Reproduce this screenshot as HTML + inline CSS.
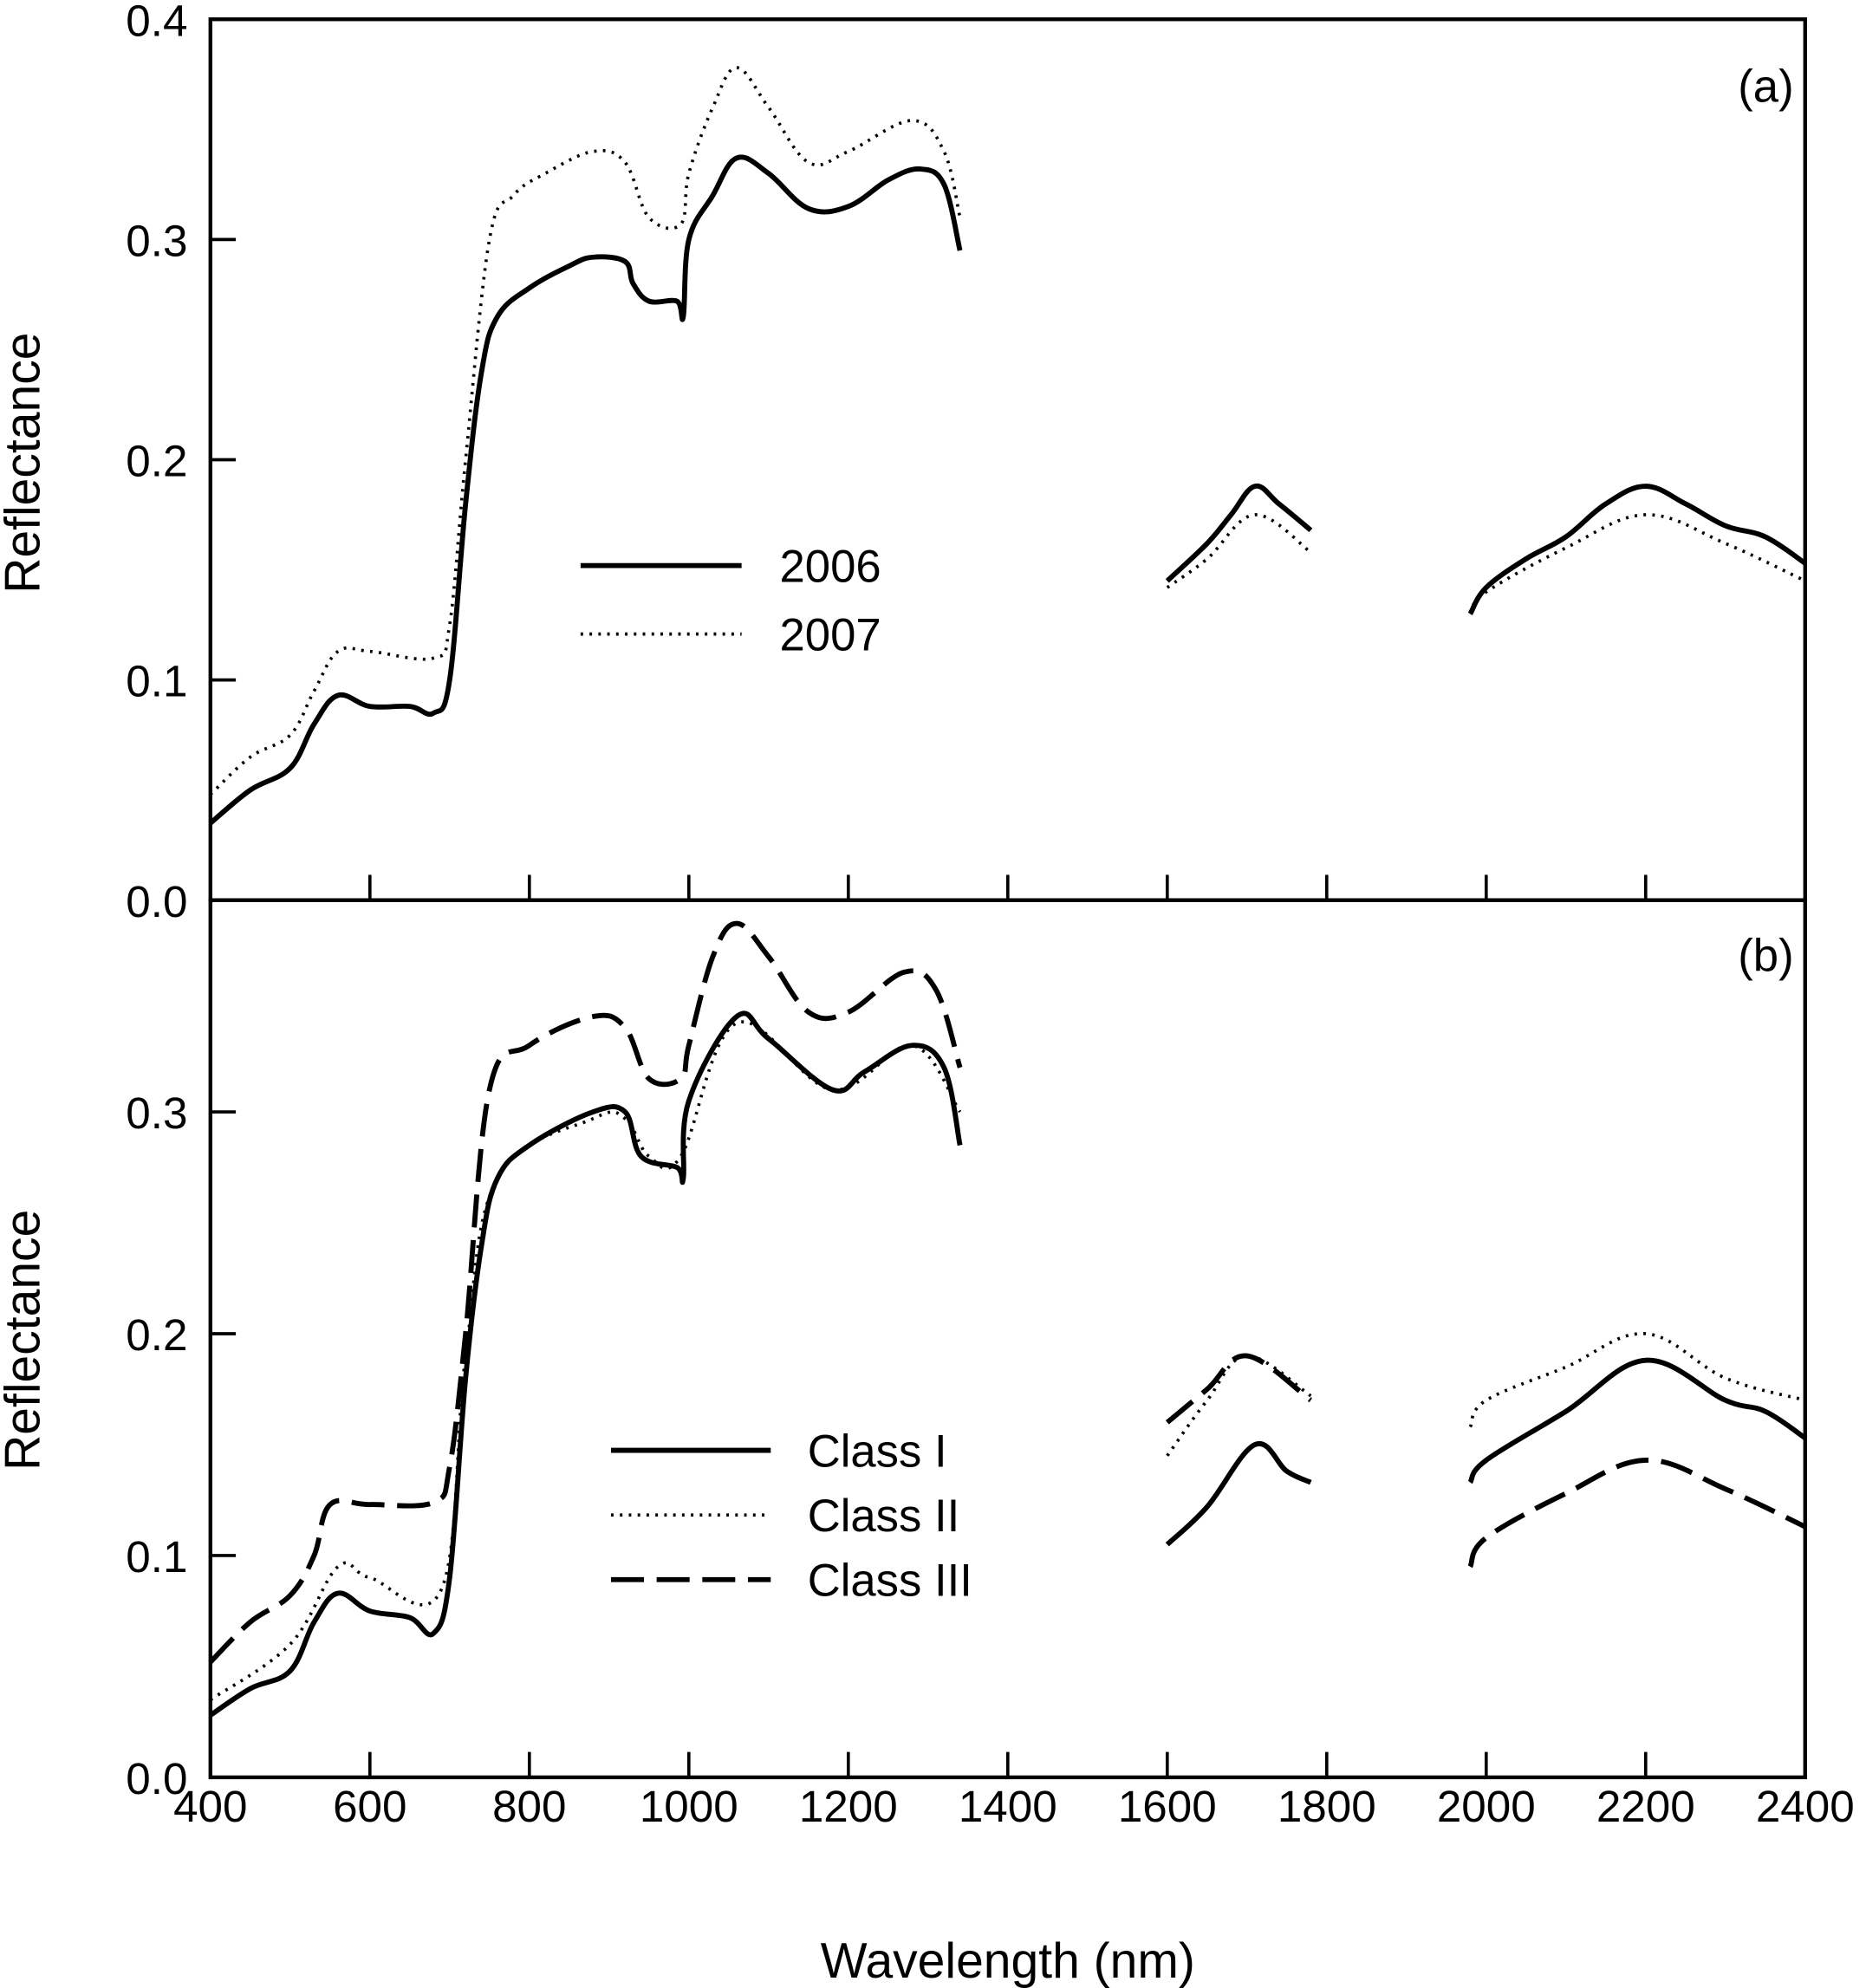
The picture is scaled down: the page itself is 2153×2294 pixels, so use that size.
<!DOCTYPE html>
<html><head><meta charset="utf-8"><style>
html,body{margin:0;padding:0;background:#fff;}
svg{display:block;}
text{font-family:"Liberation Sans",sans-serif;fill:#000;}
</style></head><body>
<svg id="s" width="2153" height="2294" viewBox="0 0 1472 1568" xmlns="http://www.w3.org/2000/svg">
<g id="g"></g>
</svg>
<script>
const g=document.getElementById('g');
const NS='http://www.w3.org/2000/svg';
function el(t,a,txt){const e=document.createElementNS(NS,t);for(const k in a)e.setAttribute(k,a[k]);if(txt!==undefined)e.textContent=txt;g.appendChild(e);return e;}
const X=w=>166+(w-400)*0.629;
const YT=v=>710-v*1737.5;
const YB=v=>1402-v*1750;
el('rect',{x:166,y:15,width:1258,height:695,fill:'none',stroke:'#000','stroke-width':3});
el('rect',{x:166,y:710,width:1258,height:692,fill:'none',stroke:'#000','stroke-width':3});
for(let w=600;w<2400;w+=200){
 el('line',{x1:X(w),x2:X(w),y1:710,y2:690,stroke:'#000','stroke-width':2.5});
 el('line',{x1:X(w),x2:X(w),y1:1402,y2:1382,stroke:'#000','stroke-width':2.5});
}
for(let w=400;w<=2400;w+=200){el('text',{x:X(w),y:1437,'font-size':35,'text-anchor':'middle'},String(w));}
for(let i=0;i<=4;i++){const v=i/10;
 el('text',{x:148,y:YT(v)+13,'font-size':35,'text-anchor':'end'},v.toFixed(1));
 if(i>0&&i<4)el('line',{x1:166,x2:186,y1:YT(v),y2:YT(v),stroke:'#000','stroke-width':2.5});
}
for(let i=0;i<=3;i++){const v=i/10;
 el('text',{x:148,y:YB(v)+13,'font-size':35,'text-anchor':'end'},v.toFixed(1));
 if(i>0)el('line',{x1:166,x2:186,y1:YB(v),y2:YB(v),stroke:'#000','stroke-width':2.5});
}
el('text',{x:1415,y:80,'font-size':36,'text-anchor':'end'},'(a)');
el('text',{x:1415,y:766,'font-size':36,'text-anchor':'end'},'(b)');
el('text',{x:795,y:1560,'font-size':39,'text-anchor':'middle'},'Wavelength (nm)');
el('text',{x:0,y:0,'font-size':39,'text-anchor':'middle',transform:'translate(31,365) rotate(-90)'},'Reflectance');
el('text',{x:0,y:0,'font-size':39,'text-anchor':'middle',transform:'translate(31,1057) rotate(-90)'},'Reflectance');
const styles={solid:{'stroke-width':4},dot:{'stroke-width':2.5,'stroke-dasharray':'2 5'},dash:{'stroke-width':4,'stroke-dasharray':'26 10'}};
function series(segs,Y,st){for(const s of segs){const p=[];for(let i=0;i<s.length;i+=2)p.push([X(s[i]),Y(s[i+1])]);
 let d='M'+p[0][0].toFixed(1)+','+p[0][1].toFixed(1);
 for(let i=0;i<p.length-1;i++){const p0=p[Math.max(0,i-1)],p1=p[i],p2=p[i+1],p3=p[Math.min(p.length-1,i+2)];
  const t=0.18;
  const c1=[p1[0]+(p2[0]-p0[0])*t,p1[1]+(p2[1]-p0[1])*t],c2=[p2[0]-(p3[0]-p1[0])*t,p2[1]-(p3[1]-p1[1])*t];
  d+='C'+c1.map(v=>v.toFixed(1)).join(',')+' '+c2.map(v=>v.toFixed(1)).join(',')+' '+p2.map(v=>v.toFixed(1)).join(',');}
 el('path',Object.assign({d:d,fill:'none',stroke:'#000','stroke-linejoin':'round'},styles[st]));}}
function leg(x1,x2,y,st,tx,label){el('line',Object.assign({x1:x1,x2:x2,y1:y,y2:y,stroke:'#000'},styles[st]));el('text',{x:tx,y:y+13,'font-size':36},label);}
series([[400,.035,450,.05,500,.06,530,.08,560,.093,600,.088,650,.088,680,.085,700,.1,720,.18,740,.24,760,.265,800,.278,850,.288,880,.292,920,.29,930,.28,950,.272,985,.272,993,.265,1000,.3,1030,.32,1060,.337,1100,.33,1150,.314,1200,.315,1250,.327,1290,.332,1320,.325,1340,.295],
 [1600,.145,1650,.162,1680,.175,1710,.188,1740,.18,1780,.168],
 [1980,.13,2000,.142,2050,.155,2100,.165,2150,.18,2200,.188,2250,.18,2300,.17,2350,.165,2400,.153]],YT,'solid');
series([[400,.048,450,.065,500,.075,530,.095,560,.113,600,.113,680,.11,700,.125,720,.2,750,.3,780,.32,820,.33,880,.34,920,.335,950,.31,990,.307,1000,.33,1030,.36,1060,.378,1100,.36,1150,.335,1200,.34,1280,.354,1320,.34,1340,.31],
 [1600,.142,1650,.155,1710,.175,1780,.158],
 [1980,.13,2000,.14,2100,.16,2200,.175,2300,.162,2400,.145]],YT,'dot');
leg(458,585,446,'solid',615,'2006');leg(458,585,500,'dot',615,'2007');
series([[400,.028,450,.04,500,.048,530,.07,560,.083,600,.075,650,.072,680,.065,700,.09,720,.18,740,.24,760,.27,800,.285,880,.3,920,.3,940,.28,985,.275,993,.27,1000,.305,1060,.343,1100,.333,1180,.31,1220,.318,1280,.33,1320,.32,1340,.285],
 [1600,.105,1650,.122,1710,.15,1750,.138,1780,.133],
 [1980,.133,2000,.143,2100,.165,2200,.188,2300,.17,2350,.165,2400,.153]],YB,'solid');
series([[400,.035,500,.06,560,.095,600,.09,690,.085,720,.19,760,.27,880,.297,920,.297,950,.28,990,.28,1060,.34,1180,.31,1280,.33,1340,.3],
 [1600,.145,1650,.17,1700,.19,1780,.172],
 [1980,.158,2000,.17,2100,.185,2200,.2,2300,.18,2400,.17]],YB,'dot');
series([[400,.052,450,.07,500,.082,530,.1,550,.123,600,.123,680,.124,700,.14,720,.2,750,.31,800,.33,880,.343,920,.338,950,.315,990,.315,1000,.33,1030,.37,1060,.385,1100,.37,1150,.345,1200,.345,1270,.363,1310,.355,1340,.32],
 [1600,.16,1650,.175,1700,.19,1780,.17],
 [1980,.095,2000,.108,2100,.128,2200,.143,2300,.13,2400,.113]],YB,'dash');
leg(482,608,1144,'solid',637,'Class  I');leg(482,608,1195,'dot',637,'Class  II');leg(482,608,1246,'dash',637,'Class  III');
</script>
</body></html>
